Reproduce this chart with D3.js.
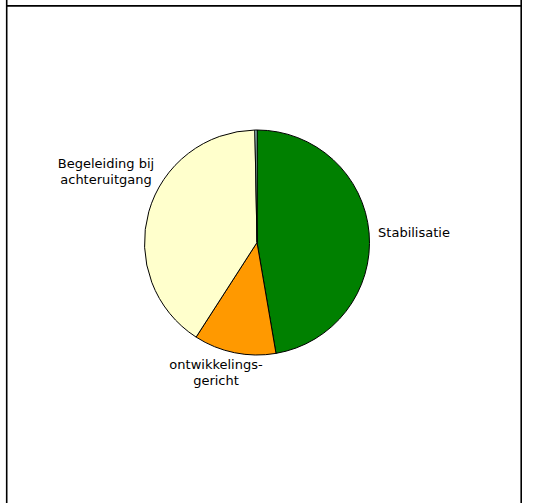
<!DOCTYPE html>
<html>
<head>
<meta charset="utf-8">
<script src="https://cdn.jsdelivr.net/npm/d3@7"></script>
<style>
html,body{margin:0;padding:0;background:#fff;}
svg{display:block;}
text{font-family:"DejaVu Sans",Verdana,sans-serif;font-size:13px;fill:#000;}
</style>
</head>
<body>
<svg id="chart" width="536" height="503"></svg>
<script>
const categories = ["Stabilisatie", "ontwikkelingsgericht", "Begeleiding bij achteruitgang", "Overig"];
const values = [47.3, 11.8, 40.6, 0.3];
const colors = ["#008000", "#FF9900", "#FFFFCC", "#CCFFFF"];
const labelLines = [["Stabilisatie"], ["ontwikkelings-", "gericht"], ["Begeleiding bij", "achteruitgang"], []];

const svg = d3.select("#chart");
const W = 536, H = 503;

// frame
svg.append("line").attr("x1", 6.7).attr("x2", 6.7).attr("y1", 0).attr("y2", H).attr("stroke", "#000").attr("stroke-width", 1.6);
svg.append("line").attr("x1", 521.2).attr("x2", 521.2).attr("y1", 0).attr("y2", H).attr("stroke", "#000").attr("stroke-width", 1.6);
svg.append("line").attr("x1", 6).attr("x2", 522).attr("y1", 5.9).attr("y2", 5.9).attr("stroke", "#000").attr("stroke-width", 1.7);

const cx = 257, cy = 242.5, r = 112.5;
const data = categories.map((c, i) => ({name: c, value: values[i], color: colors[i], lines: labelLines[i]}));
const pie = d3.pie().value(d => d.value).sort(null);
const arc = d3.arc().innerRadius(0).outerRadius(r);
const arcs = pie(data);

const g = svg.append("g").attr("transform", `translate(${cx},${cy})`);
g.selectAll("path").data(arcs).enter().append("path")
  .attr("d", arc)
  .attr("fill", d => d.data.color)
  .attr("stroke", "#000")
  .attr("stroke-width", 1)
  .attr("stroke-linejoin", "round");

// labels
const labelPos = {
  "Stabilisatie": {x: 414, y: 237, anchor: "middle"},
  "ontwikkelingsgericht": {x: 216, y: 369, anchor: "middle"},
  "Begeleiding bij achteruitgang": {x: 106, y: 168, anchor: "middle"}
};
arcs.forEach(a => {
  const p = labelPos[a.data.name];
  if (!p) return;
  const t = svg.append("text").attr("text-anchor", p.anchor);
  a.data.lines.forEach((ln, i) => {
    t.append("tspan").attr("x", p.x).attr("y", p.y + i * 15.5).text(ln);
  });
});
</script>
</body>
</html>
